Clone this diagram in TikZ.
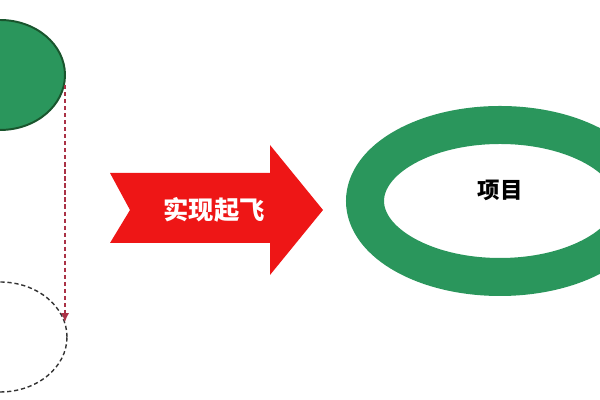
\documentclass[tikz,border=0pt]{standalone}
\usepackage{fontspec}
\newfontfamily\cjk{Noto Sans CJK SC}
\usetikzlibrary{shapes.geometric,arrows.meta}
\definecolor{ringgreen}{RGB}{42,150,92}
\definecolor{darkgreen}{RGB}{25,85,45}
\definecolor{arrowred}{RGB}{238,22,22}
\definecolor{dashred}{RGB}{170,50,70}
\begin{document}
\begin{tikzpicture}[
    oval/.style={ellipse, inner sep=0pt, minimum width=#1},
    label text/.style={font=\cjk\bfseries\fontsize{#1}{#1}\selectfont}
  ]
            \clip (0, 0) rectangle (15, 10);
            \node [oval=3.25cm, minimum height=2.75cm, fill=ringgreen, draw=darkgreen, line width=1.4pt] (top) at (0, 8.125) {};
            \node [oval=3.35cm, minimum height=2.75cm, draw=gray!40!black, densely dashed, line width=1pt] (bottom) at (0, 1.575) {};
            \coordinate (drop start) at (1.625, 7.875);
            \coordinate (drop end) at (1.625, 1.95);
            \draw [dashred, densely dashed, line width=0.9pt, -{Latex[length=2.2mm, width=2mm]}] (drop start) -- (drop end);
            % big notched arrow
            \fill [arrowred] (2.75, 5.675) -- (6.75, 5.675) -- (6.75, 6.375) -- (8.075, 4.75)
                -- (6.75, 3.125) -- (6.75, 3.925) -- (2.75, 3.925) -- (3.25, 4.75) -- cycle;
            \node [label text=18, text=white] (step) at (5.35, 4.75) {实现起飞};
            % project ring
            \node [oval=6.75cm, minimum height=3.8cm, draw=ringgreen, line width=0.95cm] (project) at (12.5, 4.975) {};
            \node [label text=16, text=black] (name) at (12.5, 5.25) {项目};
        \end{tikzpicture}
\end{document}
